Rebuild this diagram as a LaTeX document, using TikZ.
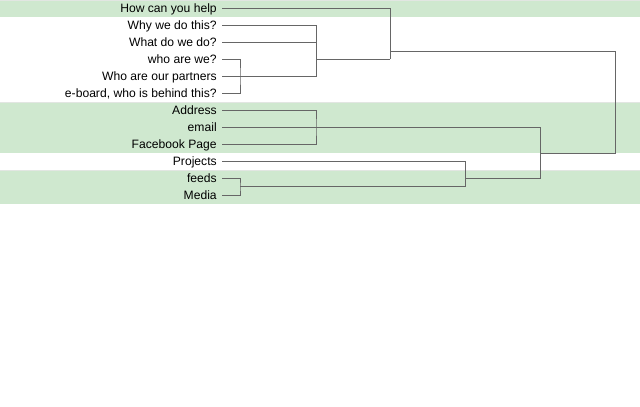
\documentclass[tikz,border=0pt]{standalone}
\usepackage{fontspec}
\setmainfont{Liberation Sans}
\definecolor{band}{HTML}{CFE8CF}
\definecolor{bandedge}{HTML}{E2E6E2}
\definecolor{linkgray}{HTML}{666666}
\tikzset{
  leaf/.style={anchor=east, inner xsep=3.75pt, inner ysep=0pt, text height=7pt, text depth=1pt, font=\fontsize{9.1}{10}\selectfont},
  link/.style={draw=linkgray, line width=0.75pt}
}
\begin{document}
\begin{tikzpicture}[x=0.75pt, y=-0.75pt]
\useasboundingbox (0,0) rectangle (640,407);
\foreach \t/\b in {0.5/17, 102.5/153, 170.5/204} {
  \fill[band] (0,\t) rectangle (640,\b);
  \draw[bandedge, line width=0.75pt] (0,\t) -- (640,\t);
}
\node[leaf] (help) at (222, 8.3) {How can you help};
\node[leaf] (why) at (222, 25.3) {Why we do this?};
\node[leaf] (what) at (222, 42.3) {What do we do?};
\node[leaf] (who) at (222, 59.3) {who are we?};
\node[leaf] (partners) at (222, 76.3) {Who are our partners};
\node[leaf] (eboard) at (222, 93.3) {e-board, who is behind this?};
\node[leaf] (address) at (222, 110.3) {Address};
\node[leaf] (email) at (222, 127.3) {email};
\node[leaf] (facebook) at (222, 144.3) {Facebook Page};
\node[leaf] (projects) at (222, 161.3) {Projects};
\node[leaf] (feeds) at (222, 178.3) {feeds};
\node[leaf] (media) at (222, 195.3) {Media};
\coordinate (m1) at (240, 76.3);
\coordinate (m2) at (316, 59.3);
\coordinate (m3) at (390, 51.3);
\coordinate (m4) at (316, 127.3);
\coordinate (m5) at (240, 186.8);
\coordinate (m6) at (465, 178.3);
\coordinate (m7) at (540, 153.3);
\coordinate (m8) at (615, 102.3);
\draw[link] (who.east) -| (m1) |- (eboard.east);
\draw[link] (why.east) -| (m2 |- partners) -- (partners.east);
\draw[link] (what.east) -- (what -| m2);
\draw[link] (m2) -- (m2 -| m3);
\draw[link] (help.east) -| (m2 -| m3);
\draw[link] (address.east) -| (m4) |- (facebook.east);
\draw[link] (email.east) -- (m4);
\draw[link] (feeds.east) -| (m5) |- (media.east);
\draw[link] (projects.east) -| (m5 -| m6) -- (m5);
\draw[link] (m4) -| (m6 -| m7) -- (m6);
\draw[link] (m3) -| (m7 -| m8) -- (m7);
\end{tikzpicture}
\end{document}
